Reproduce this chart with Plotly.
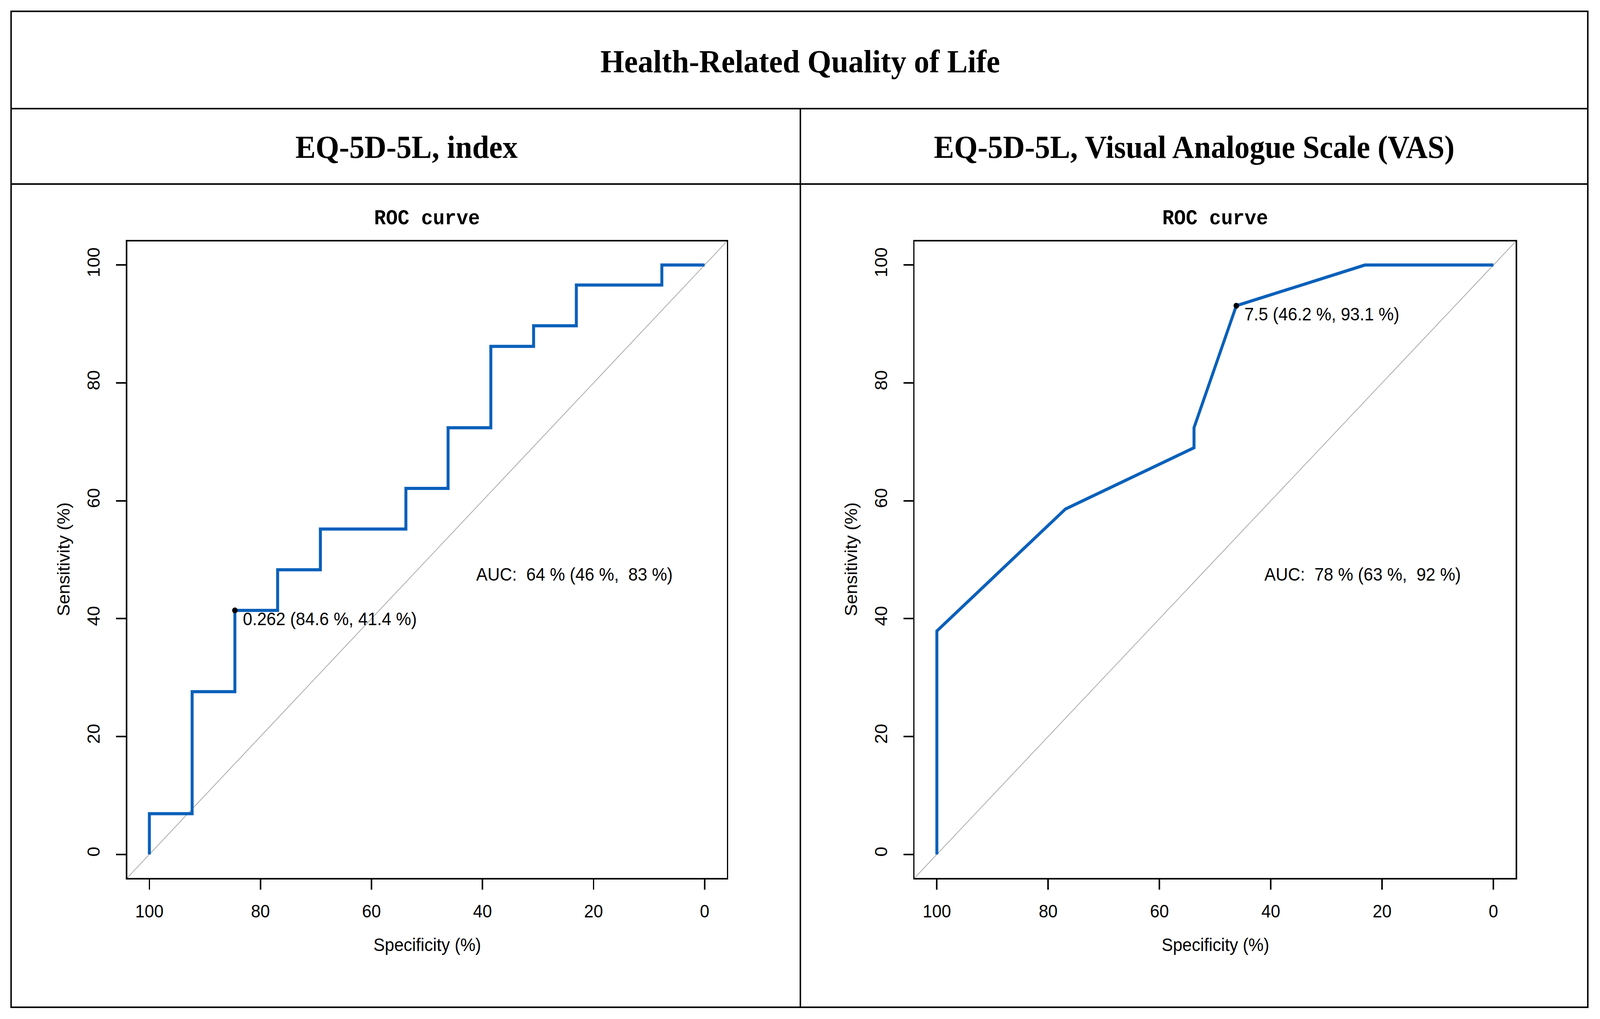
import plotly.graph_objects as go

W, H = 4328, 2608

# ---------------- data ----------------
tick_vals = [0, 20, 40, 60, 80, 100]
tick_text = ["0", "20", "40", "60", "80", "100"]

# EQ-5D-5L index ROC curve (specificity %, sensitivity %)
index_spec = [100, 100, 92.3, 92.3, 84.6, 84.6, 76.9, 76.9, 69.2, 69.2, 53.8, 53.8,
              46.2, 46.2, 38.5, 38.5, 30.8, 30.8, 23.1, 23.1, 7.7, 7.7, 0]
index_sens = [0, 6.9, 6.9, 27.6, 27.6, 41.4, 41.4, 48.3, 48.3, 55.2, 55.2, 62.1,
              62.1, 72.4, 72.4, 86.2, 86.2, 89.7, 89.7, 96.6, 96.6, 100, 100]

# EQ-5D-5L VAS ROC curve
vas_spec = [100, 100, 76.9, 53.8, 53.8, 46.2, 23.1, 0]
vas_sens = [0, 37.9, 58.6, 69.0, 72.4, 93.1, 100, 100]

# chance diagonal (corner to corner of the plotting box)
diag_spec = [104, -4]
diag_sens = [-4, 104]

# best thresholds
thr_spec = [84.6, 46.2]
thr_sens = [41.4, 93.1]
thr_labels = ["0.262 (84.6 %, 41.4 %)", "7.5 (46.2 %, 93.1 %)"]

auc_labels = ["AUC:  64 % (46 %,  83 %)", "AUC:  78 % (63 %,  92 %)"]
auc_pos = [41.3, 47.5]

main_title = "Health-Related Quality of Life"
panel_titles = ["EQ-5D-5L, index", "EQ-5D-5L, Visual Analogue Scale (VAS)"]
plot_title = "ROC curve"
x_title = "Specificity (%)"
y_title = "Sensitivity (%)"

# ---------------- helpers ----------------
def px(x):
    return x / W

def py(y):
    return 1 - y / H

BLUE = "#0a60ba"
SANS = "Liberation Sans, Arial, sans-serif"
SERIF = "Liberation Serif, Times New Roman, serif"
MONO = "Liberation Mono, Courier New, monospace"

fig = go.Figure()

curves = [(index_spec, index_sens), (vas_spec, vas_sens)]
for i, (sx, sy) in enumerate(curves):
    xa = "x" if i == 0 else "x2"
    ya = "y" if i == 0 else "y2"
    fig.add_trace(go.Scatter(x=diag_spec, y=diag_sens, mode="lines",
                             line=dict(color="#a9a9a9", width=2),
                             xaxis=xa, yaxis=ya, showlegend=False, hoverinfo="skip"))
    fig.add_trace(go.Scatter(x=sx, y=sy, mode="lines",
                             line=dict(color=BLUE, width=8),
                             xaxis=xa, yaxis=ya, showlegend=False))
    fig.add_trace(go.Scatter(x=[thr_spec[i]], y=[thr_sens[i]], mode="markers",
                             marker=dict(color="black", size=15, symbol="circle"),
                             xaxis=xa, yaxis=ya, showlegend=False))

axis_common = dict(
    tickvals=tick_vals, ticktext=tick_text, ticks="outside", ticklen=26,
    tickwidth=3.5, tickcolor="black", showline=True, linewidth=3.5,
    linecolor="black", mirror=True, showgrid=False, zeroline=False,
    tickfont=dict(family=SANS, size=46, color="black"),
)

boxes = [(344, 1966), (2474, 4100)]
ytop, ybot = 618, 2247

fig.update_layout(
    width=W, height=H,
    margin=dict(l=0, r=0, t=0, b=0),
    paper_bgcolor="white", plot_bgcolor="white",
    xaxis=dict(domain=[px(boxes[0][0]), px(boxes[0][1])], range=[104, -4],
               anchor="y", ticklabelstandoff=16, **axis_common),
    yaxis=dict(domain=[py(ybot), py(ytop)], range=[-4, 104], anchor="x",
               tickangle=-90, ticklabelstandoff=26, **axis_common),
    xaxis2=dict(domain=[px(boxes[1][0]), px(boxes[1][1])], range=[104, -4],
                anchor="y2", ticklabelstandoff=16, **axis_common),
    yaxis2=dict(domain=[py(ybot), py(ytop)], range=[-4, 104], anchor="x2",
                tickangle=-90, ticklabelstandoff=26, **axis_common),
)

# frame lines
frame = dict(color="black", width=4)
shapes = [
    dict(type="rect", xref="paper", yref="paper", x0=px(30), x1=px(4295),
         y0=py(2578), y1=py(29), line=frame),
    dict(type="line", xref="paper", yref="paper", x0=px(30), x1=px(4295),
         y0=py(278), y1=py(278), line=frame),
    dict(type="line", xref="paper", yref="paper", x0=px(30), x1=px(4295),
         y0=py(471), y1=py(471), line=frame),
    dict(type="line", xref="paper", yref="paper", x0=px(2165), x1=px(2165),
         y0=py(278), y1=py(2578), line=frame),
]
fig.update_layout(shapes=shapes)

C = dict(xanchor="center", yanchor="middle", showarrow=False,
         xref="paper", yref="paper")
ann = []
ann.append(dict(text="<b>" + main_title + "</b>", x=px(2164), y=py(157),
                font=dict(family=SERIF, size=83, color="black"), **C))
cell_centers = [1099, 3230]
for i in range(2):
    ann.append(dict(text="<b>" + panel_titles[i] + "</b>", x=px(cell_centers[i]),
                    y=py(376), font=dict(family=SERIF, size=82, color="black"), **C))
    bx0, bx1 = boxes[i]
    cx = (bx0 + bx1) / 2
    ann.append(dict(text="<b>" + plot_title + "</b>", x=px(cx), y=py(560),
                    font=dict(family=MONO, size=53, color="black"), **C))
    ann.append(dict(text=x_title, x=px(cx), y=py(2418),
                    font=dict(family=SANS, size=46, color="black"), **C))
    ann.append(dict(text=y_title, x=px(bx0 - 172), y=py(1432), textangle=-90,
                    font=dict(family=SANS, size=46, color="black"), **C))
    xr = "x" if i == 0 else "x2"
    yr = "y" if i == 0 else "y2"
    ann.append(dict(text=thr_labels[i], x=thr_spec[i], y=thr_sens[i], xref=xr, yref=yr,
                    xanchor="left", yanchor="middle", xshift=20, yshift=-22,
                    showarrow=False, font=dict(family=SANS, size=46, color="black")))
    ann.append(dict(text=auc_labels[i], x=auc_pos[0], y=auc_pos[1], xref=xr, yref=yr,
                    xanchor="left", yanchor="middle", showarrow=False,
                    font=dict(family=SANS, size=46, color="black")))
fig.update_layout(annotations=ann)

# Fit the 4328x2608 figure into the actual browser viewport if it is smaller.
post = """
document.body.style.margin = '0';
document.documentElement.style.overflow = 'hidden';
var gd = document.getElementById('{plot_id}');
var sx = window.innerWidth / 4328, sy = window.innerHeight / 2608;
if (Math.abs(sx - 1) > 0.001 || Math.abs(sy - 1) > 0.001) {
  gd.style.transformOrigin = '0 0';
  gd.style.transform = 'scale(' + sx + ',' + sy + ')';
}
"""
fig.write_html("out.html", post_script=post, config={"displayModeBar": False})
